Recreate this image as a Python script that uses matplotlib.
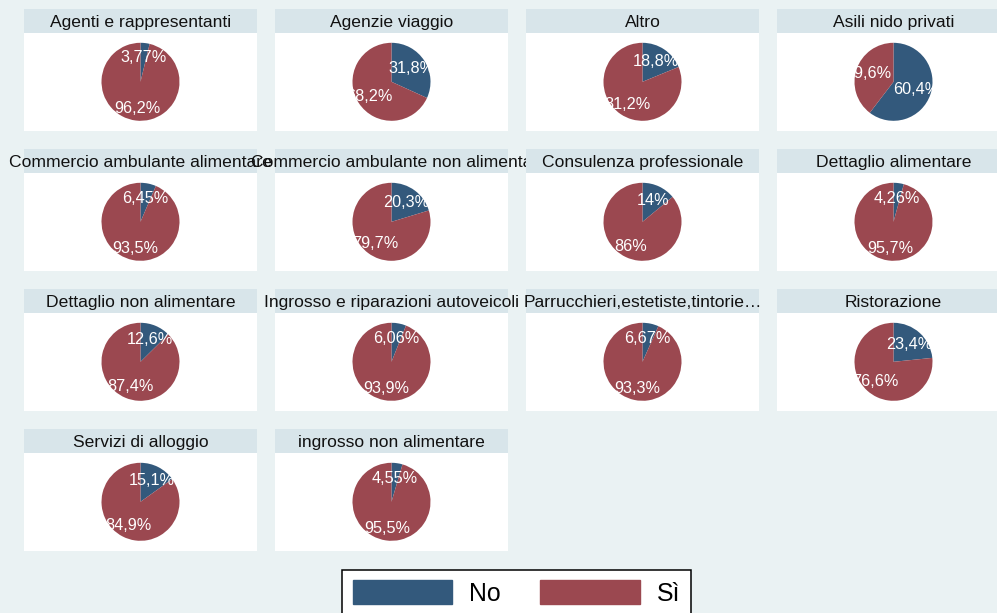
import matplotlib
matplotlib.use("Agg")
import matplotlib.pyplot as plt
from matplotlib.patches import Patch
import numpy as np

plt.rcParams['font.family'] = ['Liberation Sans', 'DejaVu Sans']

categories = [
    "Agenti e rappresentanti", "Agenzie viaggio", "Altro", "Asili nido privati",
    "Commercio ambulante alimentare", "Commercio ambulante non alimenta",
    "Consulenza professionale", "Dettaglio alimentare",
    "Dettaglio non alimentare", "Ingrosso e riparazioni autoveicoli",
    "Parrucchieri,estetiste,tintorie…", "Ristorazione",
    "Servizi di alloggio", "ingrosso non alimentare",
]
pct_no = [3.77, 31.8, 18.8, 60.4, 6.45, 20.3, 14, 4.26, 12.6, 6.06, 6.67, 23.4, 15.1, 4.55]
pct_si = [96.2, 68.2, 81.2, 39.6, 93.5, 79.7, 86, 95.7, 87.4, 93.9, 93.3, 76.6, 84.9, 95.5]
legend_labels = ["No", "Sì"]

W, H = 997, 613
BG = "#EAF2F3"
BAR = "#D8E5EA"
BLUE = "#33597C"
RED = "#9B4850"

fig = plt.figure(figsize=(W / 100, H / 100), dpi=100, facecolor=BG)


def rect(x, y, w, h):
    return [x / W, 1 - (y + h) / H, w / W, h / H]


def fmt(v):
    return f"{v:.3g}".replace(".", ",")


for i, name in enumerate(categories):
    r, c = divmod(i, 4)
    left = 24 + 251 * c
    top = 9.3 + 140 * r
    pw = 233
    # title bar
    tax = fig.add_axes(rect(left, top, pw, 23.4), facecolor=BAR)
    tax.set_xticks([]); tax.set_yticks([])
    for s in tax.spines.values():
        s.set_visible(False)
    tax.text(0.5, 0.45, name, ha="center", va="center", fontsize=12.6,
             color="#111111", clip_on=False, transform=tax.transAxes, zorder=10)
    # plot region
    wax = fig.add_axes(rect(left, top + 23.4, pw, 98.3), facecolor="white")
    wax.set_xticks([]); wax.set_yticks([])
    for s in wax.spines.values():
        s.set_visible(False)
    # pie
    cx = left + 116.5
    cy = top + 72.5
    rr = 39
    pax = fig.add_axes(rect(cx - rr, cy - rr, 2 * rr, 2 * rr))
    pax.patch.set_alpha(0)
    vals = [pct_no[i], pct_si[i]]
    wedges, _ = pax.pie(vals, colors=[BLUE, RED], startangle=90, counterclock=False,
                        radius=1, wedgeprops=dict(linewidth=0))
    pax.set_xlim(-1, 1); pax.set_ylim(-1, 1)
    pax.set_aspect("equal", adjustable="box")
    pax.axis("off")
    for w, v, d in zip(wedges, vals, [0.615, 0.69]):
        mid = np.deg2rad((w.theta1 + w.theta2) / 2)
        pax.text(d * np.cos(mid), d * np.sin(mid), fmt(v) + "%", ha="center",
                 va="center", color="white", fontsize=11.7, clip_on=True)

handles = [Patch(facecolor=BLUE, edgecolor=BLUE), Patch(facecolor=RED, edgecolor=RED)]
leg = fig.legend(handles, legend_labels, loc="upper center", ncol=2,
                 bbox_to_anchor=(516.5 / W, 1 - 570 / H), fontsize=17.9,
                 frameon=True, fancybox=False, framealpha=1, edgecolor="black",
                 borderpad=0.42, handlelength=4.0, handleheight=1.08,
                 handletextpad=0.68, columnspacing=1.6, borderaxespad=0)
leg.get_frame().set_linewidth(1.1)

fig.savefig("out.png", dpi=100, facecolor=BG)
